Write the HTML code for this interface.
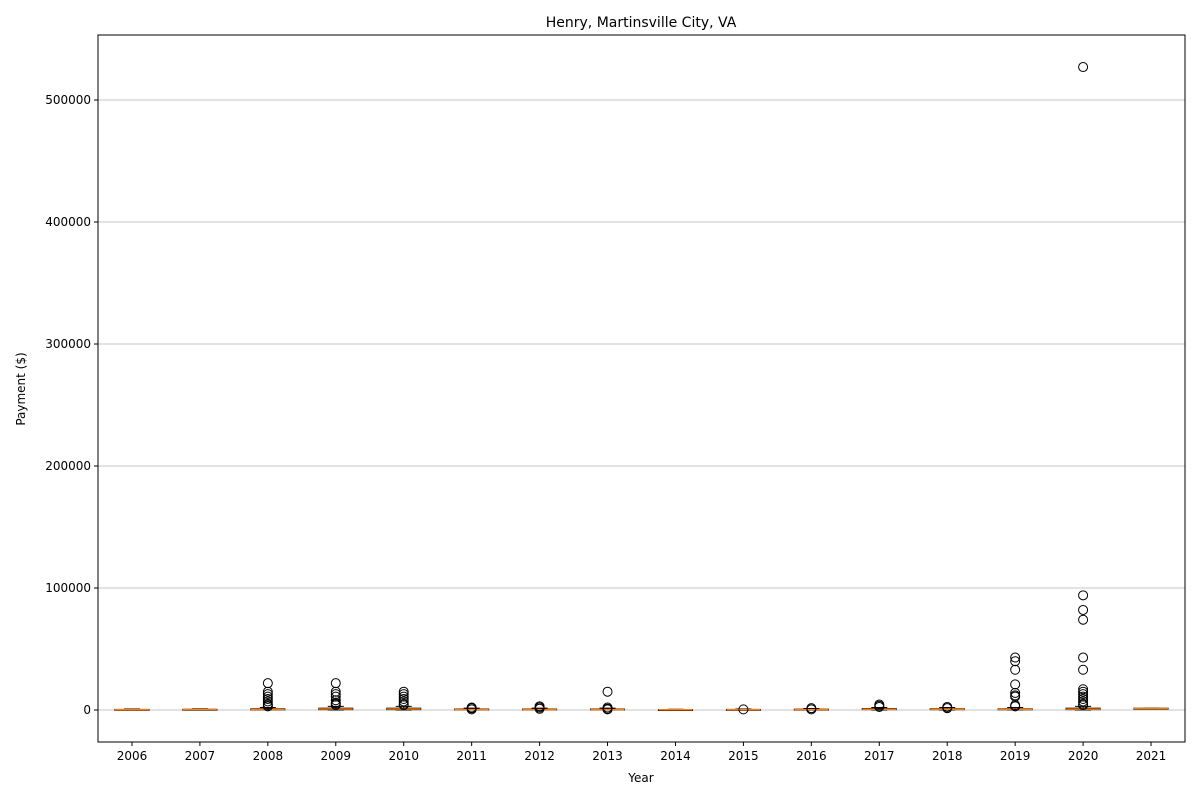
<!DOCTYPE html>
<html><head><meta charset="utf-8"><style>
body{margin:0;background:#fff;font-family:"DejaVu Sans","Liberation Sans",sans-serif}
</style></head><body>
<svg id="chart" width="1200" height="800" xmlns="http://www.w3.org/2000/svg" font-family="DejaVu Sans, Liberation Sans, sans-serif">
<rect width="1200" height="800" fill="#fff"/>
<text x="641" y="27" text-anchor="middle" font-size="14">Henry, Martinsville City, VA</text>
<g id="grid"></g><g id="marks"></g><g id="axes"></g>
<text x="641" y="782" text-anchor="middle" font-size="12">Year</text>
<text x="25" y="389" text-anchor="middle" font-size="12" transform="rotate(-90 25 389)">Payment ($)</text>
</svg>
<script>
const years=["2006","2007","2008","2009","2010","2011","2012","2013","2014","2015","2016","2017","2018","2019","2020","2021"];
const q1=[0,0,0,300,300,0,0,0,0,0,0,300,300,200,300,1000];
const med=[200,300,400,800,800,300,300,300,200,200,300,600,600,500,700,1200];
const q3=[500,600,1000,1500,1500,800,800,800,400,500,700,1200,1100,1000,1500,1500];
const wlo=[0,0,0,0,0,0,0,0,0,0,0,0,0,0,0,1000];
const whi=[800,900,2000,3000,3000,1500,1500,1500,600,800,1200,2000,2000,2000,3000,1500];
const outliers=[[],[],
[22000,15000,13000,11000,9000,7000,5000,4000,3000],
[22000,15000,13000,11000,8000,6000,5000,4000],
[15000,13000,11000,9000,7000,5000,4000],
[2000,1500,500],[3000,2000,1000],[15000,2000,1000,500],[],[500],[1500,500],[4500,3500,2500],[2500,1500],
[43000,40000,33000,21000,14000,12000,11000,4000,3000],
[527000,94000,82000,74000,43000,33000,17000,15000,13000,11000,9000,7000,5000,4000],
[]];
const yTicks=[0,100000,200000,300000,400000,500000];
const L=98,R=1185,T=35,B=742;
const yv=v=>710-v*0.00122;
const xv=i=>L+(R-L)*(i+0.5)/years.length;
const NS="http://www.w3.org/2000/svg";
function mk(p,t,a){const e=document.createElementNS(NS,t);for(const k in a)e.setAttribute(k,a[k]);p.appendChild(e);return e;}
const grid=document.getElementById('grid'),marks=document.getElementById('marks'),axes=document.getElementById('axes');
yTicks.forEach(v=>{const y=yv(v);
const g=mk(grid,'line',{x1:L,x2:R,y1:y,y2:y,stroke:'#b0b0b0','stroke-width':0.8});

mk(axes,'line',{x1:L-4,x2:L,y1:y,y2:y,stroke:'#000'});
const t=mk(axes,'text',{x:L-7,y:y+4,'text-anchor':'end','font-size':12});t.textContent=v;
});
years.forEach((yr,i)=>{const x=xv(i),h=17;
const g=mk(marks,'g',{});
mk(g,'line',{x1:x,x2:x,y1:yv(q3[i]),y2:yv(whi[i]),stroke:'#000'});
mk(g,'line',{x1:x,x2:x,y1:yv(q1[i]),y2:yv(wlo[i]),stroke:'#000'});
mk(g,'line',{x1:x-8,x2:x+8,y1:yv(whi[i]),y2:yv(whi[i]),stroke:'#000'});
mk(g,'line',{x1:x-8,x2:x+8,y1:yv(wlo[i]),y2:yv(wlo[i]),stroke:'#000'});
mk(g,'rect',{x:x-h,y:yv(q3[i]),width:2*h,height:Math.max(1,yv(q1[i])-yv(q3[i])),fill:'none',stroke:'#000'});
mk(g,'line',{x1:x-h,x2:x+h,y1:yv(med[i]),y2:yv(med[i]),stroke:'#ff7f0e','stroke-width':1.5});
outliers[i].forEach(v=>{const c=mk(g,'circle',{cx:x,cy:yv(v),r:4.5,fill:'none',stroke:'#000'});
});
mk(axes,'line',{x1:x,x2:x,y1:B,y2:B+4,stroke:'#000'});
const t=mk(axes,'text',{x:x,y:B+18,'text-anchor':'middle','font-size':12});t.textContent=yr;
});
const f=mk(axes,'rect',{x:L,y:T,width:R-L,height:B-T,fill:'none',stroke:'#000'});

</script>
</body></html>
